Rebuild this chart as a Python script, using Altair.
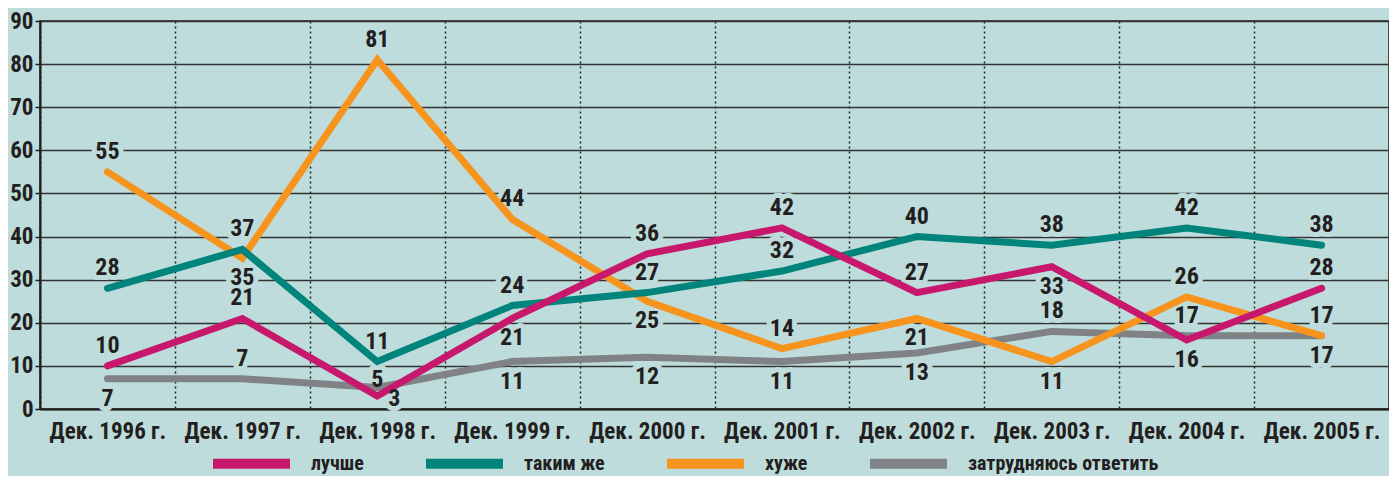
import altair as alt
import pandas as pd

categories = ["Дек. 1996 г.", "Дек. 1997 г.", "Дек. 1998 г.", "Дек. 1999 г.", "Дек. 2000 г.",
              "Дек. 2001 г.", "Дек. 2002 г.", "Дек. 2003 г.", "Дек. 2004 г.", "Дек. 2005 г."]
series = ["лучше", "таким же", "хуже", "затрудняюсь ответить"]
better = [10, 21, 3, 21, 36, 42, 27, 33, 16, 28]
same = [28, 37, 11, 24, 27, 32, 40, 38, 42, 38]
worse = [55, 35, 81, 44, 25, 14, 21, 11, 26, 17]
hard = [7, 7, 5, 11, 12, 11, 13, 18, 17, 17]
colors = ["#c8186e", "#00847c", "#f7941d", "#818285"]

# label placement codes: a = above, b = below, c = just above, r = right/below
place_better = ["a", "a", "r", "b", "a", "a", "a", "b", "b", "a"]
place_same = ["a", "a", "a", "a", "a", "a", "a", "a", "a", "a"]
place_worse = ["a", "b", "a", "a", "b", "a", "b", "b", "a", "b"]
place_hard = ["b", "a", "c", "b", "b", "b", "b", "a", "a", "a"]

BG = "#bedcdb"
INK = "#231f20"
FONT = "Roboto Condensed, Liberation Sans Narrow, Liberation Sans, Arial, sans-serif"

values = {"лучше": better, "таким же": same, "хуже": worse, "затрудняюсь ответить": hard}
places = {"лучше": place_better, "таким же": place_same, "хуже": place_worse,
          "затрудняюсь ответить": place_hard}
draw_order = ["затрудняюсь ответить", "хуже", "таким же", "лучше"]

rows = []
for s in draw_order:
    for c, v, p in zip(categories, values[s], places[s]):
        rows.append({"cat": c, "series": s, "value": v, "place": p})
df = pd.DataFrame(rows)

x = alt.X("cat:N", sort=categories, scale=alt.Scale(paddingInner=0, paddingOuter=0),
          axis=alt.Axis(title=None, labelAngle=0, labelFont=FONT, labelFontSize=23,
                        labelFontWeight="bold", labelColor=INK, labelPadding=11,
                        ticks=False, tickBand="extent", grid=True, gridColor=INK,
                        gridDash=[2, 3], gridWidth=1.5, domainColor=INK, domainWidth=2))
y = alt.Y("value:Q", scale=alt.Scale(domain=[0, 90], nice=False),
          axis=alt.Axis(title=None, values=list(range(0, 91, 10)), labelFont=FONT,
                        labelFontSize=23, labelFontWeight="bold", labelColor=INK,
                        labelPadding=2, tickSize=5, tickColor=INK, tickWidth=1.5,
                        grid=True, gridColor="#333333", gridWidth=1.5,
                        domainColor=INK, domainWidth=2))

color = alt.Color("series:N", scale=alt.Scale(domain=series, range=colors),
                  legend=alt.Legend(title=None, orient="none", direction="horizontal",
                                    legendX=168, legendY=399, symbolType="stroke",
                                    symbolStrokeWidth=10, symbolSize=5929,
                                    labelFont=FONT, labelFontSize=20, labelFontWeight="bold",
                                    labelColor=INK, labelOffset=16, columnPadding=42,
                                    labelLimit=400))

base = alt.Chart(df)

offsets = {"a": (0, -20), "b": (0, 20), "c": (0, -7), "r": (17, 3)}

halo_layers = []
text_layers = []
for code, (dx, dy) in offsets.items():
    sub = base.transform_filter(alt.datum.place == code)
    halo_layers.append(sub.mark_text(font=FONT, fontSize=24, fontWeight="bold", fill=BG,
                                     stroke=BG, strokeWidth=10, strokeJoin="round",
                                     dx=dx, dy=dy)
                       .encode(x=x, y=y, text="value:Q"))
    text_layers.append(sub.mark_text(font=FONT, fontSize=24, fontWeight="bold", fill=INK,
                                     dx=dx, dy=dy)
                       .encode(x=x, y=y, text="value:Q"))

lines = base.mark_line(strokeWidth=7, strokeCap="round").encode(
    x=x, y=y, color=color, detail="series:N")

chart = alt.layer(*halo_layers, lines, *text_layers).properties(
    width=1349, height=388,
    autosize=alt.AutoSizeParams(type="none"),
    padding={"left": 32, "top": 13, "right": 0, "bottom": 67},
    background=BG,
).configure_view(stroke=INK, strokeWidth=1.5)

chart.save("out.html", embed_options={"renderer": "svg", "actions": False})
